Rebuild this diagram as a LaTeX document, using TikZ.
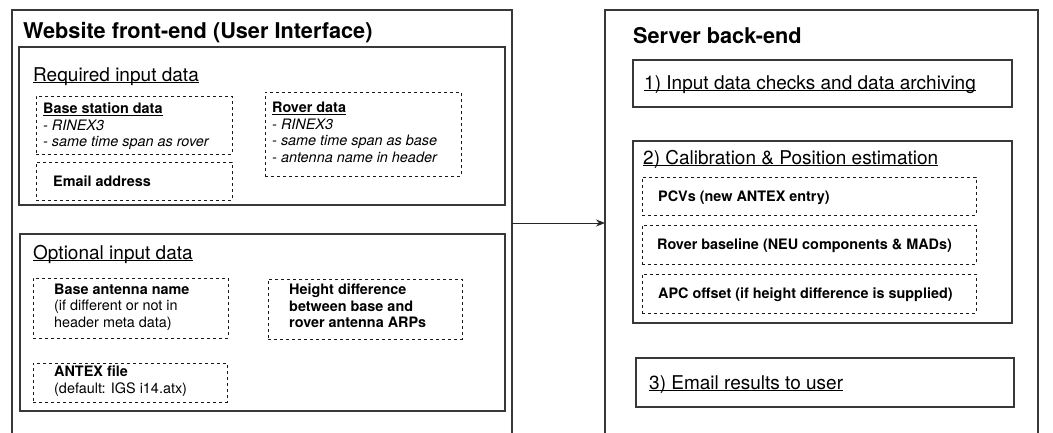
\documentclass[tikz,border=0pt]{standalone}
\usepackage{fontspec}
\setmainfont{TeX Gyre Heros}
\usetikzlibrary{arrows.meta}
\newsavebox\ulbox
\newcommand\uln[1]{\sbox\ulbox{#1}\rlap{\rule[-2pt]{\wd\ulbox}{0.9pt}}\usebox\ulbox}
\tikzset{
  x=1pt, y=-1pt,
  frame/.style={draw=black!78, line width=1.25pt, inner sep=0pt, outer sep=0pt, anchor=north west},
  dbox/.style={draw=black!90, line width=1pt, dash pattern=on 3pt off 3pt, inner sep=0pt, outer sep=0pt, anchor=north west},
  bigtitle/.style={inner sep=0pt, anchor=base west, font=\fontsize{21.7}{26}\selectfont\bfseries},
  sectitle/.style={inner sep=0pt, anchor=base west, font=\fontsize{19}{23}\selectfont},
  small/.style={inner sep=0pt, anchor=north west, align=left, font=\fontsize{14.4}{16.6}\selectfont},
  smallb/.style={inner sep=0pt, anchor=base west, font=\fontsize{14.4}{16.6}\selectfont\bfseries},
  conn/.style={draw=black!85, line width=1pt, -{Stealth[length=9pt,width=7pt]}}
}
\begin{document}
\begin{tikzpicture}
\useasboundingbox (0,0) rectangle (1053,432);
\clip (0,0) rectangle (1053,432);
\fill[white] (0,0) rectangle (1053,432);
% front-end
\node[frame, minimum width=500pt, minimum height=426pt] (fe) at (12,10) {};
\node[bigtitle] (fetitle) at (23,38) {Website front-end (User Interface)};
\node[frame, minimum width=486pt, minimum height=158pt] (req) at (19,47) {};
\node[sectitle] (reqtitle) at (33,81) {\uln{Required input data}};
\node[dbox, minimum width=196pt, minimum height=58pt] (base) at (36,96) {};
\node[small] (basetxt) at (43,102.5) {\textbf{\uln{Base station data}}\\\textit{- RINEX3}\\\textit{- same time span as rover}};
\node[dbox, minimum width=196pt, minimum height=38pt] (email) at (36,162) {};
\node[smallb] (emailtxt) at (53,186) {Email address};
\node[dbox, minimum width=196pt, minimum height=84pt] (rover) at (265,92) {};
\node[small] (rovertxt) at (272,102) {\textbf{\uln{Rover data}}\\\textit{- RINEX3}\\\textit{- same time span as base}\\\textit{- antenna name in header}};
\node[frame, minimum width=485pt, minimum height=177pt] (opt) at (20,234) {};
\node[sectitle] (opttitle) at (33,259) {\uln{Optional input data}};
\node[dbox, minimum width=195pt, minimum height=60pt] (bant) at (33,278) {};
\node[small] (banttxt) at (54,283.5) {\textbf{Base antenna name}\\(if different or not in\\header meta data)};
\node[dbox, minimum width=194pt, minimum height=60pt] (hdiff) at (268,279) {};
\node[small] (hdifftxt) at (289,283.5) {\textbf{Height difference}\\\textbf{between base and}\\\textbf{rover antenna ARPs}};
\node[dbox, minimum width=194pt, minimum height=39pt] (antex) at (33,363) {};
\node[small] (antextxt) at (54,366) {\textbf{ANTEX file}\\(default: IGS i14.atx)};
% back-end
\node[frame, minimum width=433pt, minimum height=426pt] (be) at (605,10) {};
\node[bigtitle] (betitle) at (633,43) {Server back-end};
\node[frame, minimum width=379pt, minimum height=47pt] (s1) at (633,60) {};
\node[sectitle] (s1txt) at (644,89) {\uln{1) Input data checks and data archiving}};
\node[frame, minimum width=379pt, minimum height=182pt] (s2) at (633,141) {};
\node[sectitle] (s2txt) at (643,164) {\uln{2) Calibration \& Position estimation}};
\node[dbox, minimum width=334pt, minimum height=38pt] (pcv) at (642,177) {};
\node[smallb] (pcvtxt) at (658,201) {PCVs (new ANTEX entry)};
\node[dbox, minimum width=334pt, minimum height=39pt] (rbl) at (642,225) {};
\node[smallb] (rbltxt) at (657,249.5) {Rover baseline (NEU components \& MADs)};
\node[dbox, minimum width=334pt, minimum height=39pt] (apc) at (642,274) {};
\node[smallb] (apctxt) at (658,298.5) {APC offset (if height difference is supplied)};
\node[frame, minimum width=378pt, minimum height=49pt] (s3) at (636,358) {};
\node[sectitle] (s3txt) at (649,389) {\uln{3) Email results to user}};
% connector
\draw[conn] (fe.east) -- (be.west);
\end{tikzpicture}
\end{document}
